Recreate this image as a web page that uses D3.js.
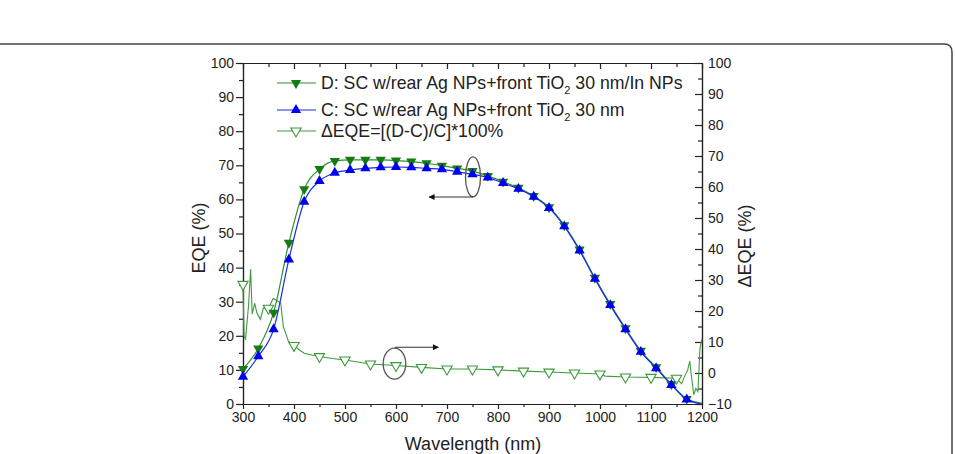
<!DOCTYPE html>
<html>
<head>
<meta charset="utf-8">
<title>EQE vs wavelength</title>
<style>
  body { margin: 0; background: #fff; }
  text { font-family: "Liberation Sans", Arial, sans-serif; fill: #222; }
  .axis path, .axis line { stroke: #222; stroke-width: 1.2px; }
  .axis text { font-size: 14px; fill: #222; }
  .frame { fill: none; stroke: #444; stroke-width: 1.5px; }
</style>
</head>
<body>
<svg width="955" height="454"></svg>
<script src="https://d3js.org/d3.v7.min.js"></script>
<script>
// sample D and C, one point every 30 nm
var wl   = [300,330,360,390,420,450,480,510,540,570,600,630,660,690,720,750,780,810,840,870,900,930,960,990,1020,1050,1080,1110,1140,1170,1200];
var eqeD = [10.3,16.3,26.8,47.3,63.0,68.9,71.3,71.6,71.6,71.6,71.4,71.1,70.6,69.9,69.1,68.3,66.9,65.2,63.4,61.0,57.7,52.4,45.3,37.0,29.3,22.2,15.6,10.8,5.8,1.5,0.2];
var eqeC = [8.0,14.0,21.9,42.4,59.3,65.4,67.8,68.6,69.1,69.4,69.5,69.4,69.1,68.8,68.1,67.4,66.4,64.8,63.1,60.8,57.5,52.1,45.0,36.7,29.0,21.9,15.3,10.5,5.6,1.3,0];

// delta EQE (right axis)
var dWl  = [300,302,305,311,315,318,323,327,334,340,350,359,368,374,379,389,400,410,420,435,450,475,500,550,600,650,700,750,800,850,900,950,1000,1010,1050,1100,1150,1160,1166,1172,1176,1180,1184,1188,1192,1196,1200];
var dEqe = [28.6,12,11,22,33.5,19,22.5,19.5,17.3,21,20.9,24,23.2,22.5,15,10.3,8.9,7.5,6.4,5.8,5.3,4.7,4.2,2.9,2.4,1.8,1.3,1.3,1.0,0.6,0.3,0,-0.3,-1.0,-1.3,-1.4,-1.7,-3.5,-1,1,3.8,-2,-7,-5,-6,8,11];

var xTicks  = [300,400,500,600,700,800,900,1000,1100,1200];
var yTicks  = [0,10,20,30,40,50,60,70,80,90,100];
var y2Ticks = [-10,0,10,20,30,40,50,60,70,80,90,100];

var svg = d3.select("svg");

var x  = d3.scaleLinear().domain([300, 1200]).range([243, 702]);
var y  = d3.scaleLinear().domain([0, 100]).range([404, 63]);
var y2 = d3.scaleLinear().domain([-10, 100]).range([404, 63]);

var green = "#2f8f2f", greenMark = "#137d13", blue = "#1a2be0", blueMark = "#0000f0";

// outer rounded frame (only top and right edges visible)
svg.append("path").attr("class", "frame")
    .attr("d", "M-10,44 H944 Q952,44 952,52 V470");

// minor ticks
var xMinor = d3.range(350, 1200, 100);
var yMinor = d3.range(5, 100, 10);
var y2Minor = d3.range(-5, 100, 10);

function noText(g) { g.selectAll("text").remove(); }

svg.append("g").attr("class", "axis")
    .attr("transform", "translate(0,404)")
    .call(d3.axisBottom(x).tickValues(xMinor).tickSize(3).tickSizeOuter(0)).call(noText);
svg.append("g").attr("class", "axis")
    .attr("transform", "translate(0,404)")
    .call(d3.axisBottom(x).tickValues(xTicks).tickSize(5).tickPadding(3).tickSizeOuter(0).tickFormat(d3.format("d")));

svg.append("g").attr("class", "axis")
    .attr("transform", "translate(0,63)")
    .call(d3.axisTop(x).tickValues(xMinor).tickSize(-4).tickSizeOuter(0)).call(noText);
svg.append("g").attr("class", "axis")
    .attr("transform", "translate(0,63)")
    .call(d3.axisTop(x).tickValues(xTicks).tickSize(-6).tickSizeOuter(0)).call(noText);

svg.append("g").attr("class", "axis")
    .attr("transform", "translate(243,0)")
    .call(d3.axisLeft(y).tickValues(yMinor).tickSize(4).tickSizeOuter(0)).call(noText);
svg.append("g").attr("class", "axis")
    .attr("transform", "translate(243,0)")
    .call(d3.axisLeft(y).tickValues(yTicks).tickSize(7).tickPadding(2).tickSizeOuter(0));

svg.append("g").attr("class", "axis")
    .attr("transform", "translate(702,0)")
    .call(d3.axisRight(y2).tickValues(y2Minor).tickSize(-4).tickSizeOuter(0)).call(noText);
var rAx = svg.append("g").attr("class", "axis")
    .attr("transform", "translate(702,0)")
    .call(d3.axisRight(y2).tickValues(y2Ticks).tickSize(-7).tickSizeOuter(0));
rAx.selectAll("text").attr("x", 6);

// axis titles
svg.append("text").attr("x", 473).attr("y", 450).attr("text-anchor", "middle")
    .style("font-size", "18px").text("Wavelength (nm)");
svg.append("text").attr("transform", "translate(205,238) rotate(-90)").attr("text-anchor", "middle")
    .style("font-size", "18px").text("EQE (%)");
svg.append("text").attr("transform", "translate(751,246) rotate(-90)").attr("text-anchor", "middle")
    .style("font-size", "18px").text("\u0394EQE (%)");

// series
var dData = wl.map(function(w, i) { return { wl: w, v: eqeD[i] }; });
var cData = wl.map(function(w, i) { return { wl: w, v: eqeC[i] }; });
var deltaData = dWl.map(function(w, i) { return { wl: w, v: dEqe[i] }; });

var lineL = d3.line().x(function(d) { return x(d.wl); }).y(function(d) { return y(d.v); }).curve(d3.curveMonotoneX);
var lineR = d3.line().x(function(d) { return x(d.wl); }).y(function(d) { return y2(d.v); });

var tri = d3.symbol().type(d3.symbolTriangle).size(46);

svg.append("path").datum(deltaData)
    .attr("fill", "none").attr("stroke", "#3d9b3d").attr("stroke-width", 1.1)
    .attr("d", lineR);
svg.selectAll(".dmark").data(deltaData.filter(function(d) { return d.wl % 50 === 0 && d.wl < 1200; }))
  .enter().append("path").attr("class", "dmark")
    .attr("d", tri())
    .attr("transform", function(d) { return "translate(" + x(d.wl) + "," + y2(d.v) + ") rotate(180)"; })
    .attr("fill", "#fff").attr("stroke", "#3a9a3a").attr("stroke-width", 1.1);

svg.append("path").datum(dData)
    .attr("fill", "none").attr("stroke", green).attr("stroke-width", 1.2)
    .attr("d", lineL);
svg.selectAll(".mD").data(dData.filter(function(d) { return d.wl < 1200; }))
  .enter().append("path").attr("class", "mD")
    .attr("d", tri())
    .attr("transform", function(d) { return "translate(" + x(d.wl) + "," + y(d.v) + ") rotate(180)"; })
    .attr("fill", greenMark);

svg.append("path").datum(cData)
    .attr("fill", "none").attr("stroke", blue).attr("stroke-width", 1.2)
    .attr("d", lineL);
svg.selectAll(".mC").data(cData.filter(function(d) { return d.wl < 1200; }))
  .enter().append("path").attr("class", "mC")
    .attr("d", tri())
    .attr("transform", function(d) { return "translate(" + x(d.wl) + "," + y(d.v) + ")"; })
    .attr("fill", blueMark);

// annotations: ellipses with arrows pointing to their axis
var defs = svg.append("defs");
defs.append("marker").attr("id", "arr").attr("viewBox", "0 0 10 10")
    .attr("refX", 9).attr("refY", 5).attr("markerWidth", 9).attr("markerHeight", 6)
    .attr("markerUnits", "userSpaceOnUse").attr("orient", "auto")
  .append("path").attr("d", "M0,0 L10,5 L0,10 Z").attr("fill", "#111");

svg.append("ellipse").attr("cx", x(751)).attr("cy", y(66.6)).attr("rx", 7.5).attr("ry", 20)
    .attr("fill", "none").attr("stroke", "#555").attr("stroke-width", 1.3);
svg.append("line").attr("x1", x(751)).attr("y1", y(60.7)).attr("x2", x(665)).attr("y2", y(60.7))
    .attr("stroke", "#333").attr("stroke-width", 1.2).attr("marker-end", "url(#arr)");

svg.append("ellipse").attr("cx", x(597)).attr("cy", y2(3.0)).attr("rx", 11.3).attr("ry", 15.5)
    .attr("fill", "none").attr("stroke", "#555").attr("stroke-width", 1.3);
svg.append("line").attr("x1", x(598)).attr("y1", y2(8.3)).attr("x2", x(683)).attr("y2", y2(8.3))
    .attr("stroke", "#333").attr("stroke-width", 1.2).attr("marker-end", "url(#arr)");

// legend
var legend = [
  { pre: "D: SC w/rear Ag NPs+front TiO", sub: "2", post: " 30 nm/In NPs", color: green, mark: greenMark, down: true, hollow: false, yy: 83 },
  { pre: "C: SC w/rear Ag NPs+front TiO", sub: "2", post: " 30 nm", color: blue, mark: blueMark, down: false, hollow: false, yy: 110 },
  { pre: "\u0394EQE=[(D-C)/C]*100%", sub: "", post: "", color: "#3d9b3d", mark: "#3a9a3a", down: true, hollow: true, yy: 131 }
];
var lg = svg.selectAll(".lg").data(legend).enter().append("g").attr("class", "lg")
    .attr("transform", function(d) { return "translate(0," + d.yy + ")"; });
lg.append("line").attr("x1", 277).attr("x2", 316).attr("y1", 0).attr("y2", 0)
    .attr("stroke", function(d) { return d.color; }).attr("stroke-width", 1.2);
lg.append("path").attr("d", tri())
    .attr("transform", function(d) { return "translate(296,0)" + (d.down ? " rotate(180)" : ""); })
    .attr("fill", function(d) { return d.hollow ? "#fff" : d.mark; })
    .attr("stroke", function(d) { return d.hollow ? d.mark : "none"; })
    .attr("stroke-width", 1.1);
var lt = lg.append("text").attr("x", 321).attr("y", 6).style("font-size", "17.7px");
lt.append("tspan").text(function(d) { return d.pre; });
lt.append("tspan").attr("dy", 5).style("font-size", "11px").text(function(d) { return d.sub; });
lt.append("tspan").attr("dy", -5).text(function(d) { return d.post; });
</script>
</body>
</html>
